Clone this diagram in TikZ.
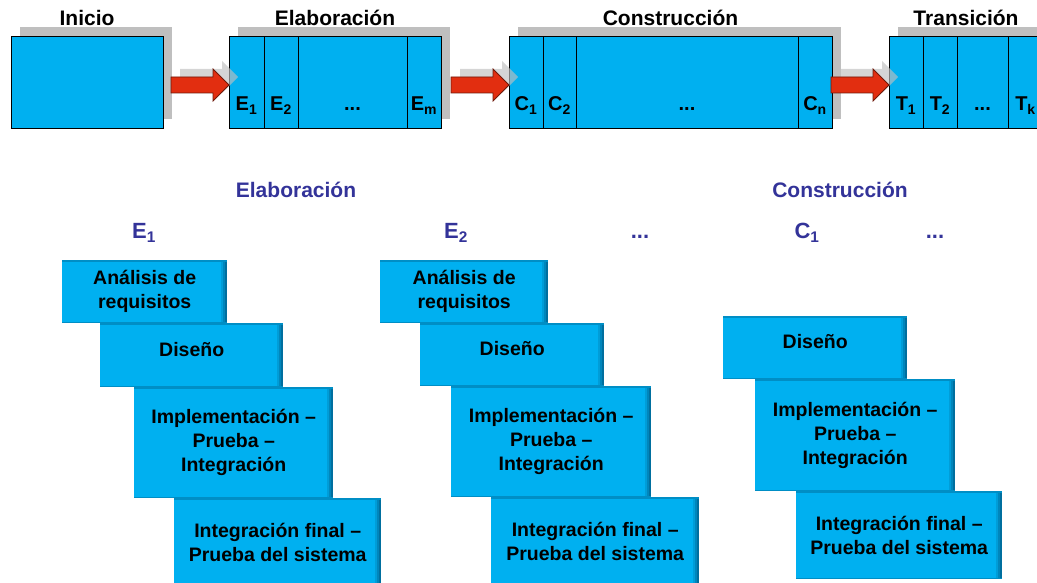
\documentclass[tikz,border=0pt]{standalone}
\usepackage{fontspec}
\setmainfont{Liberation Sans}
\usepackage{tikz}
\usetikzlibrary{positioning, calc, backgrounds}
\definecolor{phaseblue}{RGB}{0, 176, 240}
\definecolor{boxedge}{RGB}{0, 100, 145}
\definecolor{shadowgrey}{RGB}{191, 191, 191}
\definecolor{arrowred}{RGB}{226, 46, 16}
\definecolor{arrowline}{RGB}{110, 25, 10}
\definecolor{labelblue}{RGB}{51, 51, 153}

% fat red arrow ending at #1, with its grey shadow
\newcommand{\phasearrow}[1]{%
  \fill[shadowgrey, opacity=0.65] ([shift={(9,-8)}, yshift=-3pt]#1) -- ++(-16,-16) -- ++(0,8) -- ++(-42,0) -- ++(0,16) -- ++(42,0) -- ++(0,8) -- cycle;
  \filldraw[fill=arrowred, draw=arrowline, line width=0.8pt] ([yshift=-3pt]#1) -- ++(-16,-16) -- ++(0,8) -- ++(-42,0) -- ++(0,16) -- ++(42,0) -- ++(0,8) -- cycle;
}

\begin{document}
\begin{tikzpicture}[x=1pt, y=-1pt,
    phasebox/.style={draw=black, line width=0.9pt, fill=phaseblue, minimum height=92pt, inner sep=0pt, outer sep=0pt, anchor=north west},
    cell/.style={phasebox, label={[celltxt]south:#1}},
    celltxt/.style={anchor=base, yshift=17pt, font=\fontsize{20}{24}\selectfont\bfseries},
    phasetitle/.style={anchor=base, yshift=10pt, font=\fontsize{21}{24}\selectfont\bfseries},
    steptitle/.style={anchor=base, text=labelblue, font=\fontsize{21}{24}\selectfont\bfseries},
    iterlabel/.style={anchor=base, text=labelblue, font=\fontsize{22}{24}\selectfont\bfseries},
    taskbox/.style={fill=phaseblue, inner sep=0pt, anchor=north west, align=center,
      font=\fontsize{19.5}{24}\selectfont\bfseries,
      path picture={
        \fill[boxedge!25!phaseblue] ([xshift=-6pt]path picture bounding box.south east) rectangle ([xshift=-4pt]path picture bounding box.north east);
        \fill[boxedge!55!phaseblue] ([xshift=-4pt]path picture bounding box.south east) rectangle ([xshift=-2pt]path picture bounding box.north east);
        \fill[boxedge!85!phaseblue] ([xshift=-2pt]path picture bounding box.south east) rectangle (path picture bounding box.north east);
        \fill[boxedge!45!phaseblue] ([yshift=-1.5pt]path picture bounding box.north west) rectangle (path picture bounding box.north east);
        \fill[boxedge!45!phaseblue] ([yshift=1.5pt]path picture bounding box.south west) rectangle (path picture bounding box.south east);
      }},
    lifted/.style={text depth=12pt}]
  \clip (0,0) rectangle (1037,583);

  % Inicio
  \node[phasebox, minimum width=152pt] (ini) at (11,36) {};
  \node[phasetitle] (initit) at (ini.north) {Inicio};

  % Elaboracion
  \node[cell={E\textsubscript{1}}, minimum width=35pt] (e1) at (229,36) {};
  \node[cell={E\textsubscript{2}}, minimum width=34pt, right=0pt of e1] (e2) {};
  \node[cell={...}, minimum width=109pt, right=0pt of e2] (edot) {};
  \node[cell={E\textsubscript{m}}, minimum width=34pt, right=0pt of edot] (em) {};
  \node[phasetitle] (elatit) at ($(e1.north west)!0.5!(em.north east)$) {Elaboración};

  % Construccion
  \node[cell={C\textsubscript{1}}, minimum width=34pt] (c1) at (509,36) {};
  \node[cell={C\textsubscript{2}}, minimum width=33pt, right=0pt of c1] (c2) {};
  \node[cell={...}, minimum width=222pt, right=0pt of c2] (cdot) {};
  \node[cell={C\textsubscript{n}}, minimum width=34pt, right=0pt of cdot] (cn) {};
  \node[phasetitle] (contit) at ($(c1.north west)!0.5!(cn.north east)$) {Construcción};

  % Transicion
  \node[cell={T\textsubscript{1}}, minimum width=34pt] (t1) at (889,36) {};
  \node[cell={T\textsubscript{2}}, minimum width=34pt, right=0pt of t1] (t2) {};
  \node[cell={...}, minimum width=51pt, right=0pt of t2] (tdot) {};
  \node[cell={T\textsubscript{k}}, minimum width=35pt, right=0pt of tdot] (tk) {};
  \node[phasetitle] (tratit) at ($(t1.north west)!0.5!(tk.north east)$) {Transición};

  % grey shadows behind the phases
  \begin{pgfonlayer}{background}
    \fill[shadowgrey] ([shift={(9,-9)}]ini.south west) rectangle ([shift={(9,-9)}]ini.north east);
    \fill[shadowgrey] ([shift={(9,-9)}]e1.south west) rectangle ([shift={(9,-9)}]em.north east);
    \fill[shadowgrey] ([shift={(9,-9)}]c1.south west) rectangle ([shift={(9,-9)}]cn.north east);
    \fill[shadowgrey] ([shift={(9,-9)}]t1.south west) rectangle ([shift={(9,-9)}]tk.north east);
  \end{pgfonlayer}

  % arrows between phases
  \phasearrow{e1.west}
  \phasearrow{c1.west}
  \phasearrow{t1.west}

  % headings of the lower part
  \node[steptitle] (elab) at (296,198) {Elaboración};
  \node[steptitle] (cons) at (840,198) {Construcción};
  \node[iterlabel] (it1) at (144,239) {E\textsubscript{1}};
  \node[iterlabel] (it2) at (456,239) {E\textsubscript{2}};
  \node[iterlabel] (it3) at (640,239) {...};
  \node[iterlabel] (it4) at (807,239) {C\textsubscript{1}};
  \node[iterlabel] (it5) at (935,239) {...};

  % E1
  \node[taskbox, minimum width=165pt, minimum height=63pt] (ana1) at (62,260) {Análisis de\\requisitos};
  \node[taskbox, lifted, minimum width=183pt, minimum height=64pt] (dis1) at (100,323) {Diseño};
  \node[taskbox, minimum width=199pt, minimum height=111pt] (imp1) at (134,387) {Implementación –\\Prueba –\\Integración};
  \node[taskbox, minimum width=207pt, minimum height=89pt] (fin1) at (174,498) {Integración final –\\Prueba del sistema};

  % E2
  \node[taskbox, minimum width=168pt, minimum height=63pt] (ana2) at (380,260) {Análisis de\\requisitos};
  \node[taskbox, lifted, minimum width=184pt, minimum height=63pt] (dis2) at (420,323) {Diseño};
  \node[taskbox, minimum width=200pt, minimum height=111pt] (imp2) at (451,386) {Implementación –\\Prueba –\\Integración};
  \node[taskbox, minimum width=208pt, minimum height=89pt] (fin2) at (491,497) {Integración final –\\Prueba del sistema};

  % C1
  \node[taskbox, lifted, minimum width=184pt, minimum height=63pt] (dis3) at (723,316) {Diseño};
  \node[taskbox, minimum width=200pt, minimum height=112pt] (imp3) at (755,379) {Implementación –\\Prueba –\\Integración};
  \node[taskbox, minimum width=206pt, minimum height=88pt] (fin3) at (796,491) {Integración final –\\Prueba del sistema};
\end{tikzpicture}
\end{document}
